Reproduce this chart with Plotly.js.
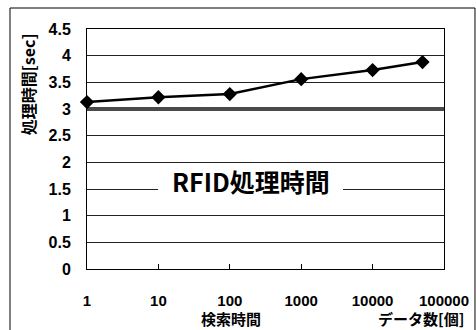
<!DOCTYPE html>
<html>
<head>
<meta charset="utf-8">
<script src="https://cdn.plot.ly/plotly-3.0.1.min.js"></script>
<style>html,body{margin:0;padding:0;background:#fff;}#chart{width:476px;height:330px;}</style>
</head>
<body>
<div id="chart"></div>
<script>
// Data
var dataCounts = [1, 10, 100, 1000, 10000, 50000];
var searchTimes = [3.13, 3.22, 3.28, 3.56, 3.73, 3.88];
var rfidX = [1, 100000];
var rfidY = [3.0, 3.0];
var xTickVals = [1, 10, 100, 1000, 10000, 100000];
var xTickText = ['1', '10', '100', '1000', '10000', '100000'];
var yTickVals = [0, 0.5, 1, 1.5, 2, 2.5, 3, 3.5, 4, 4.5];
var yTickText = ['0', '0.5', '1', '1.5', '2', '2.5', '3', '3.5', '4', '4.5'];
var rfidLabel = 'RFID処理時間';
var searchLabel = '検索時間';
var yTitle = '処理時間[sec]';
var xTitle = 'データ数[個]';

var FONT = 'Liberation Sans, Arial, Noto Sans CJK JP, sans-serif';
var CJK = 'Noto Sans CJK JP, Liberation Sans, sans-serif';

var traces = [
  {
    x: rfidX, y: rfidY, type: 'scatter', mode: 'lines',
    line: {color: '#4a4a4a', width: 4},
    cliponaxis: false, hoverinfo: 'skip'
  },
  {
    x: dataCounts, y: searchTimes, type: 'scatter', mode: 'lines+markers',
    line: {color: '#000', width: 2.5},
    marker: {symbol: 'diamond', size: 11, color: '#000'},
    cliponaxis: false
  }
];

var layout = {
  width: 476, height: 330,
  margin: {l: 87, r: 32, t: 29, b: 61},
  paper_bgcolor: '#fff', plot_bgcolor: '#fff',
  showlegend: false,
  font: {family: FONT, color: '#000', size: 15},
  xaxis: {
    type: 'log', range: [0, 5],
    tickvals: xTickVals, ticktext: xTickText,
    tickfont: {family: FONT, size: 15, weight: 'bold'},
    ticks: 'inside', ticklen: 5, tickcolor: '#000', tickwidth: 1,
    ticklabelstandoff: 18,
    showgrid: false, zeroline: false,
    showline: true, linecolor: '#000', linewidth: 1, mirror: true
  },
  yaxis: {
    range: [0, 4.5],
    tickvals: yTickVals, ticktext: yTickText,
    tickfont: {family: FONT, size: 16, weight: 'bold'},
    ticks: '', ticklabelstandoff: 12,
    showgrid: true, gridcolor: '#222', gridwidth: 1,
    zeroline: false,
    showline: true, linecolor: '#000', linewidth: 1, mirror: true
  },
  shapes: [
    {type: 'rect', xref: 'paper', yref: 'paper',
     x0: -0.2157, x1: 1.0868, y0: -0.27, y1: 1.0875,
     line: {color: '#000', width: 1}, fillcolor: 'rgba(0,0,0,0)', layer: 'below'},
    {type: 'rect', xref: 'paper', yref: 'paper',
     x0: 0.199, x1: 0.717, y0: 0.31, y1: 0.44,
     line: {width: 0}, fillcolor: '#fff', layer: 'above'}
  ],
  annotations: [
    {xref: 'paper', yref: 'paper', x: 0.46, y: 0.367,
     text: rfidLabel, showarrow: false,
     font: {family: CJK, size: 25, weight: 'bold', color: '#000'},
     xanchor: 'center', yanchor: 'middle'},
    {xref: 'paper', yref: 'paper', x: -0.165, y: 0.77,
     text: yTitle, showarrow: false, textangle: -90,
     font: {family: CJK, size: 16, weight: 'bold', color: '#000'},
     xanchor: 'center', yanchor: 'middle'},
    {xref: 'paper', yref: 'paper', x: 0.403, y: -0.205,
     text: searchLabel, showarrow: false,
     font: {family: CJK, size: 15, weight: 'bold', color: '#000'},
     xanchor: 'center', yanchor: 'middle'},
    {xref: 'paper', yref: 'paper', x: 0.935, y: -0.205,
     text: xTitle, showarrow: false,
     font: {family: CJK, size: 15, weight: 'bold', color: '#000'},
     xanchor: 'center', yanchor: 'middle'}
  ]
};

Plotly.newPlot('chart', traces, layout, {staticPlot: true, displayModeBar: false});
</script>
</body>
</html>
